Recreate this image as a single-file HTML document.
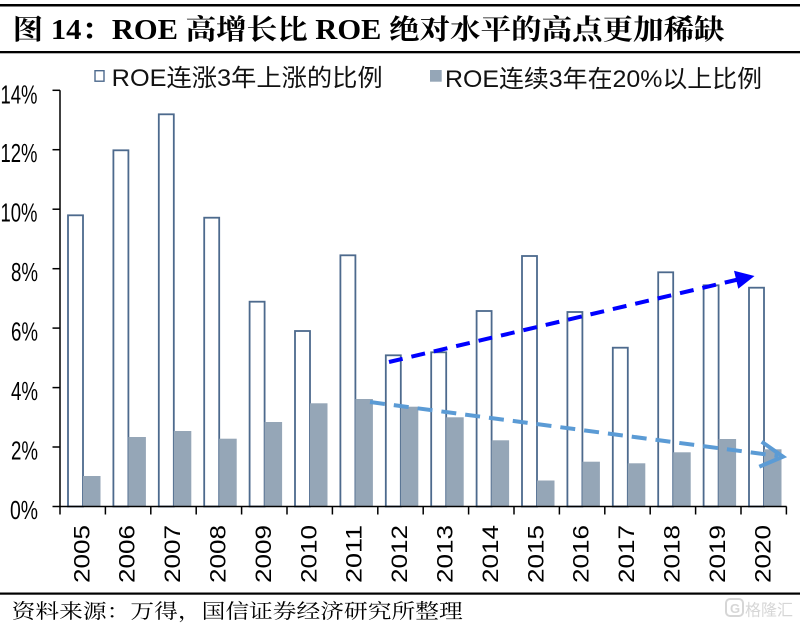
<!DOCTYPE html>
<html>
<head>
<meta charset="utf-8">
<style>
html,body{margin:0;padding:0;background:#fff;}
svg{display:block;}
</style>
</head>
<body>
<svg width="800" height="625" viewBox="0 0 800 625" xmlns="http://www.w3.org/2000/svg">
<rect x="0" y="0" width="800" height="625" fill="#fff"/>
<!-- header lines -->
<rect x="0" y="4" width="800" height="2.5" fill="#000"/>
<rect x="0" y="51" width="800" height="2.3" fill="#000"/>
<text x="12.7" y="39" font-family="'Liberation Serif','Noto Serif CJK SC',serif" font-weight="bold" font-size="28" textLength="712" lengthAdjust="spacingAndGlyphs" fill="#000">图 14：ROE 高增长比 ROE 绝对水平的高点更加稀缺</text>

<!-- legend -->
<rect x="95" y="70.7" width="9" height="10.5" fill="#fff" stroke="#4D6A8D" stroke-width="1.4"/>
<text x="111.7" y="86" font-family="'Liberation Sans','Noto Sans CJK SC',sans-serif" font-size="24" textLength="271" lengthAdjust="spacingAndGlyphs" fill="#111">ROE连涨3年上涨的比例</text>
<rect x="430" y="70" width="11.7" height="11.7" fill="#95A6B7"/>
<text x="445" y="87" font-family="'Liberation Sans','Noto Sans CJK SC',sans-serif" font-size="24" textLength="317" lengthAdjust="spacingAndGlyphs" fill="#111">ROE连续3年在20%以上比例</text>

<!-- y labels -->
<g font-family="'Liberation Sans',sans-serif" font-size="26" fill="#000" lengthAdjust="spacingAndGlyphs">
<text x="0.5" y="103.3" textLength="37" lengthAdjust="spacingAndGlyphs">14%</text>
<text x="0.5" y="162" textLength="37" lengthAdjust="spacingAndGlyphs">12%</text>
<text x="0.5" y="221.6" textLength="37" lengthAdjust="spacingAndGlyphs">10%</text>
<text x="11" y="281.1" textLength="27" lengthAdjust="spacingAndGlyphs">8%</text>
<text x="11" y="340.6" textLength="27" lengthAdjust="spacingAndGlyphs">6%</text>
<text x="11" y="400" textLength="27" lengthAdjust="spacingAndGlyphs">4%</text>
<text x="11" y="459.4" textLength="27" lengthAdjust="spacingAndGlyphs">2%</text>
<text x="10" y="519" textLength="28" lengthAdjust="spacingAndGlyphs">0%</text>
</g>

<!-- outline bars -->
<g fill="#fff" stroke="#4D6A8D" stroke-width="1.8">
<rect x="68" y="215.3" width="15" height="291.2"/>
<rect x="113.4" y="150.3" width="15" height="356.2"/>
<rect x="158.8" y="114.3" width="15" height="392.2"/>
<rect x="204.2" y="217.7" width="15" height="288.8"/>
<rect x="249.6" y="301.7" width="15" height="204.8"/>
<rect x="295" y="331" width="15" height="175.5"/>
<rect x="340.4" y="255.3" width="15" height="251.2"/>
<rect x="385.8" y="355.3" width="15" height="151.2"/>
<rect x="431.2" y="352.3" width="15" height="154.2"/>
<rect x="476.6" y="311" width="15" height="195.5"/>
<rect x="522" y="256" width="15" height="250.5"/>
<rect x="567.4" y="312" width="15" height="194.5"/>
<rect x="612.8" y="347.7" width="15" height="158.8"/>
<rect x="658.2" y="272.3" width="15" height="234.2"/>
<rect x="703.6" y="285.3" width="15" height="221.2"/>
<rect x="749" y="287.7" width="15" height="218.8"/>
</g>
<!-- filled bars -->
<g fill="#95A6B7">
<rect x="83" y="476" width="17.5" height="30.5"/>
<rect x="128.4" y="437" width="17.5" height="69.5"/>
<rect x="173.8" y="431" width="17.5" height="75.5"/>
<rect x="219.2" y="438.7" width="17.5" height="67.8"/>
<rect x="264.6" y="422" width="17.5" height="84.5"/>
<rect x="310" y="403.3" width="17.5" height="103.2"/>
<rect x="355.4" y="399" width="17.5" height="107.5"/>
<rect x="400.8" y="406.7" width="17.5" height="99.8"/>
<rect x="446.2" y="417.3" width="17.5" height="89.2"/>
<rect x="491.6" y="440.3" width="17.5" height="66.2"/>
<rect x="537" y="480.5" width="17.5" height="26"/>
<rect x="582.4" y="461.7" width="17.5" height="44.8"/>
<rect x="627.8" y="463.3" width="17.5" height="43.2"/>
<rect x="673.2" y="452.3" width="17.5" height="54.2"/>
<rect x="718.6" y="439" width="17.5" height="67.5"/>
<rect x="764" y="449.3" width="17.5" height="57.2"/>
</g>

<!-- axes -->
<g stroke="#000" stroke-width="1.5" fill="none">
<line x1="60" y1="90.3" x2="60" y2="507"/>
<line x1="59.3" y1="506.5" x2="786.6" y2="506.5"/>
<line x1="52.5" y1="90.3" x2="60" y2="90.3"/>
<line x1="52.5" y1="149.7" x2="60" y2="149.7"/>
<line x1="52.5" y1="209.2" x2="60" y2="209.2"/>
<line x1="52.5" y1="268.7" x2="60" y2="268.7"/>
<line x1="52.5" y1="328.1" x2="60" y2="328.1"/>
<line x1="52.5" y1="387.6" x2="60" y2="387.6"/>
<line x1="52.5" y1="447" x2="60" y2="447"/>
<line x1="52.5" y1="506.5" x2="60" y2="506.5"/>
<line x1="60" y1="506.5" x2="60" y2="514.5"/>
<line x1="105.4" y1="506.5" x2="105.4" y2="514.5"/>
<line x1="150.8" y1="506.5" x2="150.8" y2="514.5"/>
<line x1="196.2" y1="506.5" x2="196.2" y2="514.5"/>
<line x1="241.6" y1="506.5" x2="241.6" y2="514.5"/>
<line x1="287" y1="506.5" x2="287" y2="514.5"/>
<line x1="332.4" y1="506.5" x2="332.4" y2="514.5"/>
<line x1="377.8" y1="506.5" x2="377.8" y2="514.5"/>
<line x1="423.2" y1="506.5" x2="423.2" y2="514.5"/>
<line x1="468.6" y1="506.5" x2="468.6" y2="514.5"/>
<line x1="514" y1="506.5" x2="514" y2="514.5"/>
<line x1="559.4" y1="506.5" x2="559.4" y2="514.5"/>
<line x1="604.8" y1="506.5" x2="604.8" y2="514.5"/>
<line x1="650.2" y1="506.5" x2="650.2" y2="514.5"/>
<line x1="695.6" y1="506.5" x2="695.6" y2="514.5"/>
<line x1="741" y1="506.5" x2="741" y2="514.5"/>
<line x1="786.4" y1="506.5" x2="786.4" y2="514.5"/>
</g>

<!-- x labels -->
<g font-family="'Liberation Sans',sans-serif" font-size="22" fill="#000">
<text transform="translate(89.3,583) rotate(-90)" textLength="58" lengthAdjust="spacingAndGlyphs">2005</text>
<text transform="translate(134.7,583) rotate(-90)" textLength="58" lengthAdjust="spacingAndGlyphs">2006</text>
<text transform="translate(180.1,583) rotate(-90)" textLength="58" lengthAdjust="spacingAndGlyphs">2007</text>
<text transform="translate(225.5,583) rotate(-90)" textLength="58" lengthAdjust="spacingAndGlyphs">2008</text>
<text transform="translate(270.9,583) rotate(-90)" textLength="58" lengthAdjust="spacingAndGlyphs">2009</text>
<text transform="translate(316.3,583) rotate(-90)" textLength="58" lengthAdjust="spacingAndGlyphs">2010</text>
<text transform="translate(361.7,583) rotate(-90)" textLength="58" lengthAdjust="spacingAndGlyphs">2011</text>
<text transform="translate(407.1,583) rotate(-90)" textLength="58" lengthAdjust="spacingAndGlyphs">2012</text>
<text transform="translate(452.5,583) rotate(-90)" textLength="58" lengthAdjust="spacingAndGlyphs">2013</text>
<text transform="translate(497.9,583) rotate(-90)" textLength="58" lengthAdjust="spacingAndGlyphs">2014</text>
<text transform="translate(543.3,583) rotate(-90)" textLength="58" lengthAdjust="spacingAndGlyphs">2015</text>
<text transform="translate(588.7,583) rotate(-90)" textLength="58" lengthAdjust="spacingAndGlyphs">2016</text>
<text transform="translate(634.1,583) rotate(-90)" textLength="58" lengthAdjust="spacingAndGlyphs">2017</text>
<text transform="translate(679.5,583) rotate(-90)" textLength="58" lengthAdjust="spacingAndGlyphs">2018</text>
<text transform="translate(724.9,583) rotate(-90)" textLength="58" lengthAdjust="spacingAndGlyphs">2019</text>
<text transform="translate(770.3,583) rotate(-90)" textLength="58" lengthAdjust="spacingAndGlyphs">2020</text>
</g>

<!-- arrows -->
<line x1="389" y1="362" x2="738" y2="279.5" stroke="#0000FF" stroke-width="4" stroke-dasharray="14 9"/>
<polygon points="734,270.7 754.5,276 738.3,288.7" fill="#0000FF"/>
<line x1="370" y1="402" x2="778" y2="456" stroke="#5B9BD5" stroke-width="4" stroke-dasharray="15 9"/>
<polyline points="761.7,441.7 783,456.7 759.3,466.7" fill="none" stroke="#5B9BD5" stroke-width="4"/>

<!-- footer -->
<rect x="0" y="592.5" width="800" height="2.2" fill="#000"/>
<text x="11.7" y="618" font-family="'Liberation Serif','Noto Serif CJK SC',serif" font-size="20" textLength="451" lengthAdjust="spacingAndGlyphs" fill="#000">资料来源：万得，国信证券经济研究所整理</text>

<!-- watermark -->
<g opacity="0.9">
<rect x="726" y="599" width="17" height="17" rx="4" fill="none" stroke="#d2d2d2" stroke-width="2"/>
<text x="730" y="613" font-family="'Liberation Sans',sans-serif" font-size="13" font-weight="bold" fill="#d2d2d2">G</text>
<text x="745" y="615.5" font-family="'Liberation Sans','Noto Sans CJK SC',sans-serif" font-size="16" textLength="48" lengthAdjust="spacingAndGlyphs" fill="#d2d2d2">格隆汇</text>
</g>
</svg>
</body>
</html>
